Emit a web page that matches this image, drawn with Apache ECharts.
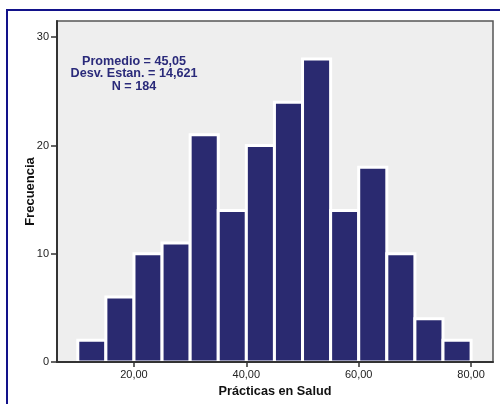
<!DOCTYPE html>
<html>
<head>
<meta charset="utf-8">
<script src="https://cdn.jsdelivr.net/npm/echarts@6/dist/echarts.min.js"></script>
<style>
html,body{margin:0;padding:0;background:#fff;}
#chart{width:500px;height:404px;}
</style>
</head>
<body>
<div id="chart"></div>
<script>
// Histogram bins (start, end) and counts
var binStarts = [10, 15, 20, 25, 30, 35, 40, 45, 50, 55, 60, 65, 70, 75];
var binEnds   = [15, 20, 25, 30, 35, 40, 45, 50, 55, 60, 65, 70, 75, 80];
var counts    = [2, 6, 10, 11, 21, 14, 20, 24, 28, 14, 18, 10, 4, 2];
var xTicks = [20, 40, 60, 80];
var yTicks = [0, 10, 20, 30];
var xTitle = 'Prácticas en Salud';
var yTitle = 'Frecuencia';
var statsLines = ['Promedio = 45,05', 'Desv. Estan. = 14,621', 'N = 184'];

var data = binStarts.map(function (s, i) { return [s, binEnds[i], counts[i]]; });

var chart = echarts.init(document.getElementById('chart'), null, {renderer: 'canvas'});
var font = '"Liberation Sans", Arial, sans-serif';

chart.setOption({
  animation: false,
  backgroundColor: '#ffffff',
  textStyle: {fontFamily: font},
  grid: {
    left: 57, top: 21, right: 7, bottom: 42,
    show: true, backgroundColor: '#EEEEEE', borderColor: '#555555', borderWidth: 1.5
  },
  xAxis: {
    type: 'value', min: 6.3, max: 83.9, z: 5,
    name: xTitle, nameLocation: 'middle', nameGap: 22,
    nameTextStyle: {fontFamily: font, fontWeight: 'bold', fontSize: 12.7, color: '#111'},
    axisLine: {show: true, onZero: false, lineStyle: {color: '#333', width: 2}},
    axisTick: {show: true, length: 5, customValues: xTicks, lineStyle: {color: '#333', width: 1.5}},
    axisLabel: {customValues: xTicks, margin: 7, fontSize: 11, color: '#222', fontFamily: font,
      formatter: function (v) { return v.toFixed(2).replace('.', ','); }},
    splitLine: {show: false}
  },
  yAxis: {
    type: 'value', min: 0, max: 31.5, z: 5,
    name: yTitle, nameLocation: 'middle', nameGap: 20, nameRotate: 90, nameMoveOverlap: false,
    nameTextStyle: {fontFamily: font, fontWeight: 'bold', fontSize: 13, color: '#111'},
    axisLine: {show: true, lineStyle: {color: '#333', width: 2}},
    axisTick: {show: true, length: 6, customValues: yTicks, lineStyle: {color: '#333', width: 1.5}},
    axisLabel: {customValues: yTicks, margin: 8, fontSize: 11, color: '#222', fontFamily: font},
    splitLine: {show: false}
  },
  graphic: [
    {type: 'rect', silent: true, z: 100,
     shape: {x: 7, y: 10, width: 700, height: 600},
     style: {fill: 'none', stroke: '#12128A', lineWidth: 2}},
    {type: 'text', silent: true, z: 100, x: 134, y: 55,
     style: {text: statsLines.join('\n'), textAlign: 'center', textVerticalAlign: 'top',
       font: 'bold 12.6px ' + font, fill: '#2A2A7A', lineHeight: 12.5}}
  ],
  series: [{
    type: 'custom',
    data: data,
    encode: {x: [0, 1], y: 2},
    renderItem: function (params, api) {
      var p0 = api.coord([api.value(0), api.value(2)]);
      var p1 = api.coord([api.value(1), 0]);
      return {
        type: 'rect',
        shape: {x: p0[0], y: p0[1], width: p1[0] - p0[0], height: p1[1] - p0[1]},
        style: {fill: '#2A2A70', stroke: '#ffffff', lineWidth: 3}
      };
    }
  }]
});
</script>
</body>
</html>
